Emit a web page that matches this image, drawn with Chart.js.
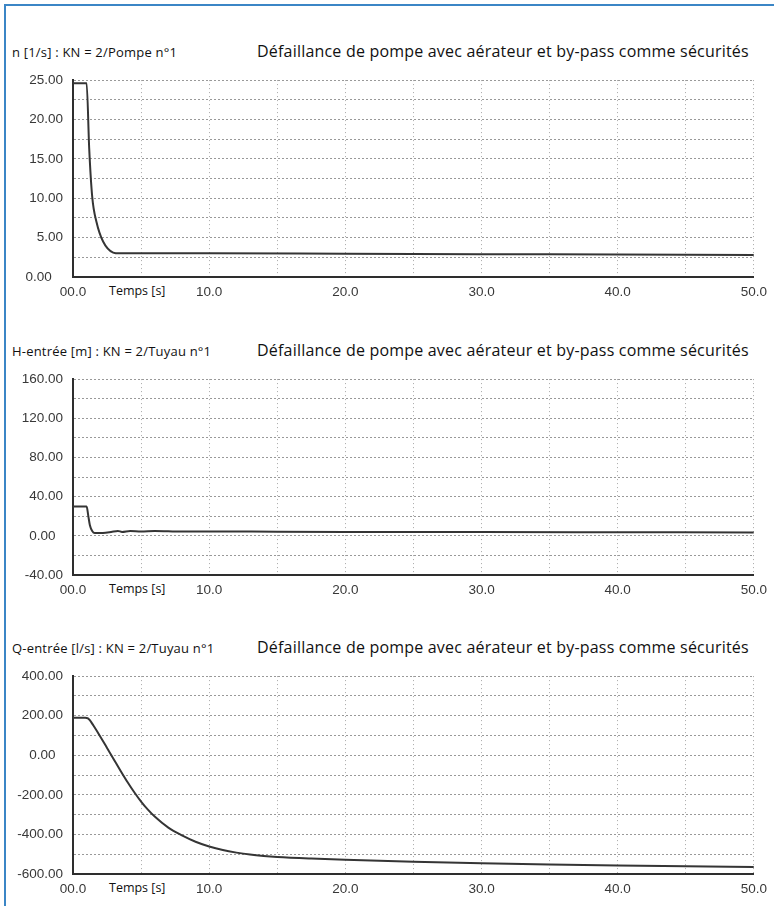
<!DOCTYPE html>
<html><head><meta charset="utf-8">
<script src="https://cdn.jsdelivr.net/npm/chart.js@4.4.1/dist/chart.umd.min.js"></script>
<style>
html,body{margin:0;padding:0;background:#fff;width:774px;height:906px;overflow:hidden;position:relative;}
#frame{position:absolute;left:4px;top:4px;width:770px;height:902px;border-top:2px solid #3b86c6;border-left:2px solid #3b86c6;box-sizing:border-box;}
canvas{position:absolute;left:0;}
.lbl{position:absolute;left:12px;font:13px "Open Sans";letter-spacing:0.2px;line-height:13px;color:#111;white-space:nowrap;}
.ttl{position:absolute;left:257px;font:16px "Open Sans";letter-spacing:0.2px;line-height:16px;color:#111;white-space:nowrap;}
.tx{position:absolute;left:104px;font:12.5px "Open Sans";line-height:18px;color:#111;background:#fff;padding:0 5px;white-space:nowrap;}
</style></head>
<body>
<div id="frame"></div>
<script>
// ---- data ----
const xTickValues = [0, 10, 20, 30, 40, 50];
const timeLabel = "Temps [s]";
const mainTitle = "Défaillance de pompe avec aérateur et by-pass comme sécurités";
const seriesLabels = ["n [1/s] : KN = 2/Pompe n°1", "H-entrée [m] : KN = 2/Tuyau n°1", "Q-entrée [l/s] : KN = 2/Tuyau n°1"];

const nTime   = [0, 1.0, 1.19, 1.41, 1.73, 2.21, 2.95, 3.4, 5, 10, 20, 30, 40, 50];
const nValues = [24.6, 24.6, 16.3, 10.2, 6.95, 4.5, 3.1, 3.0, 3.0, 3.0, 2.95, 2.9, 2.85, 2.8];
const nTicks  = [0, 5, 10, 15, 20, 25];

const hTime   = [0, 1.0, 1.12, 1.24, 1.41, 1.6, 2.2, 2.8, 3.3, 3.6, 4.2, 5, 6, 8, 10, 15, 20, 30, 40, 50];
const hValues = [30, 30, 20.6, 10.8, 4.9, 2.8, 3, 4, 5, 4, 5, 4.5, 5, 4.3, 4.5, 4.2, 4, 3.8, 3.6, 3.5];
const hTicks  = [-40, 0, 40, 80, 120, 160];

const qTime   = [0, 0.9, 1.1, 1.25, 1.5, 2, 2.5, 3, 3.5, 4, 4.5, 5, 5.5, 6, 7, 8, 9, 10, 11, 12, 13, 14, 15, 17.5, 20, 25, 30, 35, 40, 45, 50];
const qValues = [190, 190, 186, 176, 150, 95, 37, -21, -79, -135, -187, -234, -275, -310, -366, -405, -437, -461, -479, -492, -502, -509, -514, -522, -528, -538, -546, -552, -557, -561, -564];
const qTicks  = [-600, -400, -200, 0, 200, 400];

// ---- layout (not data) ----
const panels = [
  {time: nTime, values: nValues, ticks: nTicks, gridStep: 2.5, top: 72, bottom: 277, zeroPad: "   ", label: seriesLabels[0]},
  {time: hTime, values: hValues, ticks: hTicks, gridStep: 20, top: 371, bottom: 575, zeroPad: "  ", label: seriesLabels[1]},
  {time: qTime, values: qValues, ticks: qTicks, gridStep: 100, top: 668, bottom: 874, zeroPad: "  ", label: seriesLabels[2]}
];

const tickFont = {family: "Liberation Sans", size: 13.5};
const tickColor = "#383838";

panels.forEach((p, idx) => {
  const padTop = 10, axisH = 26;
  const cv = document.createElement('canvas');
  cv.width = 774; cv.height = (p.bottom - p.top) + padTop + axisH;
  cv.style.top = (p.top - padTop) + 'px';
  document.body.appendChild(cv);

  const lbl = document.createElement('div'); lbl.className = 'lbl';
  lbl.textContent = p.label; lbl.style.top = (p.top - 15 - 11.5) + 'px';
  document.body.appendChild(lbl);
  const ttl = document.createElement('div'); ttl.className = 'ttl';
  ttl.textContent = mainTitle; ttl.style.top = (p.top - 15 - 14.2) + 'px';
  document.body.appendChild(ttl);
  const tx = document.createElement('div'); tx.className = 'tx';
  tx.textContent = timeLabel; tx.style.top = (p.bottom + 5) + 'px';
  document.body.appendChild(tx);

  const yMin = p.ticks[0], yMax = p.ticks[p.ticks.length - 1];
  new Chart(cv.getContext('2d'), {
    type: 'line',
    data: {datasets: [{
      data: p.time.map((t, i) => ({x: t, y: p.values[i]})),
      borderColor: '#353535', borderWidth: 2, pointRadius: 0, fill: false,
      cubicInterpolationMode: 'monotone'
    }]},
    options: {
      responsive: false, animation: false, events: [],
      layout: {padding: {top: padTop, right: 17, left: 0, bottom: 0}},
      plugins: {legend: {display: false}, tooltip: {enabled: false}, title: {display: false}},
      scales: {
        x: {
          type: 'linear', min: 0, max: 50,
          afterFit(s) { s.height = axisH; },
          border: {display: true, color: '#2e2e2e', width: 2, dash: [1, 3]},
          grid: {color: '#a8a8a8', lineWidth: 1, drawTicks: false},
          ticks: {
            stepSize: 5, autoSkip: false, maxRotation: 0, padding: 7,
            font: tickFont, color: tickColor,
            callback: v => xTickValues.includes(v) ? (v === 0 ? '00.0' : v.toFixed(1)) : ''
          }
        },
        y: {
          type: 'linear', min: yMin, max: yMax,
          afterFit(s) { s.width = 73; },
          border: {display: true, color: '#2e2e2e', width: 2, dash: [2, 2]},
          grid: {color: '#999999', lineWidth: 1, drawTicks: false},
          ticks: {
            stepSize: p.gridStep, autoSkip: false, padding: 10,
            font: tickFont, color: tickColor,
            callback: v => p.ticks.includes(v) ? (v === 0 ? '0.00' + p.zeroPad : v.toFixed(2)) : ''
          }
        }
      }
    }
  });
});
</script>
</body></html>
